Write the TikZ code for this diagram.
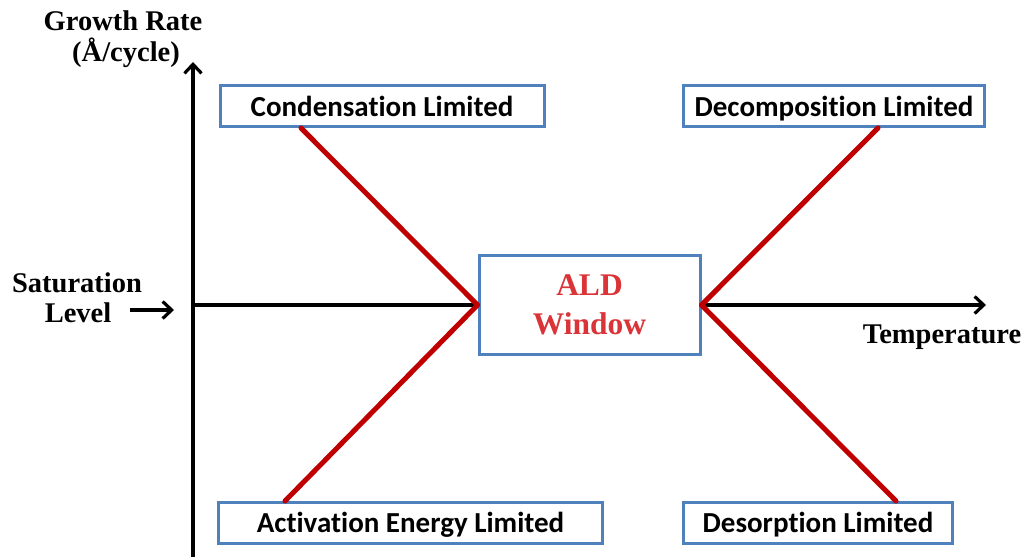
\documentclass[tikz,border=0pt]{standalone}
\usepackage{fontspec}
\setmainfont{Liberation Serif}
\newfontfamily\boxfont[Ligatures={NoCommon}]{Carlito}
\usetikzlibrary{arrows.meta}
\definecolor{boxblue}{RGB}{79,129,189}
\definecolor{limred}{RGB}{192,0,0}
\definecolor{aldred}{RGB}{218,52,56}
\tikzset{
  axisline/.style={line width=3.2pt,black,-{Straight Barb[length=9pt,width=17pt,line width=3.2pt]}},
  limbox/.style={draw=boxblue,line width=3pt,fill=white,inner sep=0pt,minimum height=41pt,
    text height=22pt,text depth=2pt,
    font=\boxfont\bfseries\fontsize{29}{32}\selectfont},
  limline/.style={limred,line width=5pt,line cap=round},
  serif/.style={font=\bfseries\fontsize{28.5}{32}\selectfont,align=center,inner sep=0pt},
}
\begin{document}
\begin{tikzpicture}[x=1pt,y=-1pt]
\useasboundingbox (0,0) rectangle (1030,557);
% axes
\coordinate (orig) at (193,305);
\coordinate (ytop) at (193,62);
\coordinate (ybot) at (193,557);
\coordinate (xend) at (986,305);
\draw[axisline] (ybot) -- (ytop);
\draw[axisline] (orig) -- (xend);
% labels
\node[serif] (gr) at (123,21) {Growth Rate};
\node[serif] (unit) at (126,53) {(Å/cycle)};
\node[serif] (sat) at (77,283) {Saturation};
\node[serif] (lev) at (78,313) {Level};
\node[serif] (temp) at (942,337) {Temperature};
\coordinate (sa1) at (130,310);
\coordinate (sa2) at (174,310);
\draw[axisline] (sa1) -- (sa2);
% boxes
\node[limbox,minimum width=324pt] (cond) at (382,106) {Condensation Limited};
\node[limbox,minimum width=301pt] (deco) at (834,106) {Decomposition Limited};
\node[limbox,minimum width=384pt] (act) at (410.5,522.5) {Activation Energy Limited};
\node[limbox,minimum width=269pt] (deso) at (818,522.5) {Desorption Limited};
\node[draw=boxblue,line width=3pt,fill=white,minimum width=221pt,minimum height=99pt,inner sep=0pt,
  align=center,text=aldred,font=\bfseries\fontsize{31.5}{39}\selectfont] (ald) at (589.5,305) {ALD\\Window};
% red lines
\coordinate (p1) at (301,128);
\coordinate (p2) at (285,501);
\coordinate (p3) at (878,128);
\coordinate (p4) at (896,501);
\draw[limline] (ald.west) -- (p1);
\draw[limline] (ald.west) -- (p2);
\draw[limline] (ald.east) -- (p3);
\draw[limline] (ald.east) -- (p4);
\end{tikzpicture}
\end{document}
